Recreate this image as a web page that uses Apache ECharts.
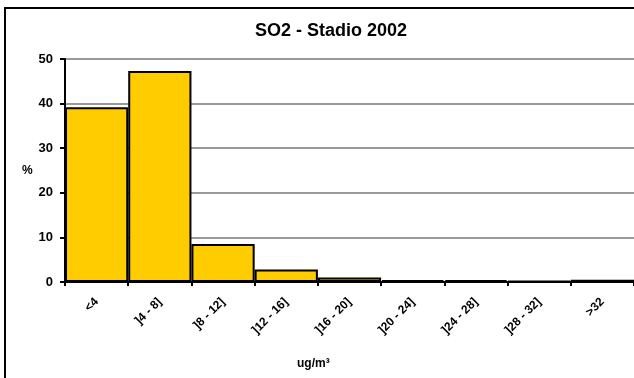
<!DOCTYPE html>
<html lang="it">
<head>
    <meta charset="UTF-8">
    <script src="https://cdn.jsdelivr.net/npm/echarts@6/dist/echarts.min.js"></script>
    <title>SO2 - Stadio 2002</title>
    <style>
        html, body { margin: 0; padding: 0; background: #fff; }
        #main { width: 634px; height: 378px; }
    </style>
</head>
<body>
<div id="main"></div>
<script type="text/javascript">
    // classi di concentrazione e percentuali
    var categories = ['<4', ']4 - 8]', ']8 - 12]', ']12 - 16]', ']16 - 20]', ']20 - 24]', ']24 - 28]', ']28 - 32]', '>32'];
    var percent = [39.2, 47.3, 8.5, 2.8, 1.0, 0.4, 0.4, 0.2, 0.5];
    var yTicks = [0, 10, 20, 30, 40, 50];

    var font = '"Liberation Sans", Arial, sans-serif';
    var myChart = echarts.init(document.getElementById('main'));
    var option = {
        animation: false,
        backgroundColor: '#fff',
        title: {
            text: 'SO2 - Stadio 2002',
            left: 326,
            top: 17,
            textAlign: 'center',
            textStyle: { fontFamily: font, fontSize: 18, fontWeight: 'bold', color: '#000' }
        },
        graphic: [{
            type: 'rect',
            shape: { x: 5, y: 8, width: 700, height: 400 },
            style: { fill: null, stroke: '#000', lineWidth: 2 },
            silent: true
        }, {
            type: 'text',
            left: 297,
            top: 358,
            style: {
                text: 'ug/m³',
                font: 'bold 12px ' + font,
                fill: '#000'
            },
            silent: true
        }],
        grid: { left: 65, top: 59, width: 570, height: 223 },
        xAxis: {
            type: 'category',
            data: categories,
            axisLine: { lineStyle: { color: '#000', width: 2 } },
            axisTick: { show: true, length: 4, lineStyle: { color: '#000', width: 2 } },
            axisLabel: {
                rotate: 45,
                margin: 18,
                fontFamily: font, fontSize: 12, fontWeight: 'bold', color: '#000'
            }
        },
        yAxis: {
            type: 'value',
            min: 0,
            max: yTicks[yTicks.length - 1],
            interval: 10,
            name: '%',
            nameLocation: 'middle',
            nameGap: 28,
            nameRotate: 0,
            nameTextStyle: { fontFamily: font, fontSize: 12, fontWeight: 'bold', color: '#000', padding: [16, 0, 0, 0] },
            axisLine: { show: true, lineStyle: { color: '#000', width: 2 } },
            axisTick: { show: true, length: 5, lineStyle: { color: '#000', width: 2 } },
            axisLabel: { margin: 12, fontFamily: font, fontSize: 13, fontWeight: 'bold', color: '#000' },
            splitLine: { lineStyle: { color: '#999', width: 2 } }
        },
        series: [{
            name: '%',
            type: 'bar',
            data: percent,
            barCategoryGap: '0%',
            itemStyle: { color: '#FFCC00', borderColor: '#000', borderWidth: 2 }
        }]
    };
    myChart.setOption(option);
</script>
</body>
</html>
